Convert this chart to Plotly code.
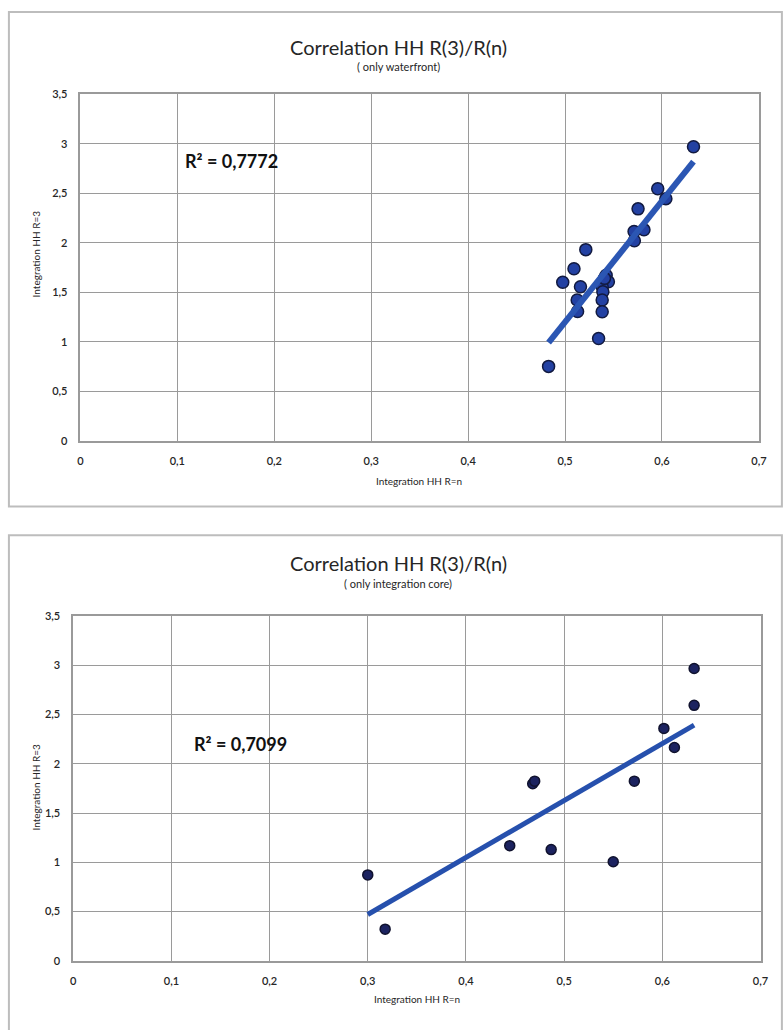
import numpy as np
import plotly.graph_objects as go

# ---------------- data ----------------
wf_x = [0.6325, 0.5956, 0.604, 0.5753, 0.5712, 0.5814, 0.5715, 0.5214, 0.5092, 0.4976,
        0.5159, 0.5125, 0.5129, 0.5424, 0.5447, 0.5383, 0.539, 0.5383, 0.5383, 0.5346,
        0.483, 0.5407]
wf_y = [2.97, 2.545, 2.445, 2.342, 2.113, 2.13, 2.02, 1.93, 1.737, 1.601,
        1.555, 1.422, 1.306, 1.671, 1.605, 1.555, 1.505, 1.422, 1.302, 1.033,
        0.751, 1.64]

core_x = [0.3, 0.3177, 0.4446, 0.4868, 0.468, 0.470, 0.55, 0.5715, 0.6016, 0.6123, 0.6324, 0.6324]
core_y = [0.872, 0.321, 1.169, 1.129, 1.797, 1.824, 1.006, 1.824, 2.359, 2.165, 2.593, 2.967]

x_tickvals = [0, 0.1, 0.2, 0.3, 0.4, 0.5, 0.6, 0.7]
x_ticktext = ["0", "0,1", "0,2", "0,3", "0,4", "0,5", "0,6", "0,7"]
y_tickvals = [0, 0.5, 1, 1.5, 2, 2.5, 3, 3.5]
y_ticktext = ["0", "0,5", "1", "1,5", "2", "2,5", "3", "3,5"]

title_main = "Correlation HH R(3)/R(n)"
subtitle_top = "( only waterfront)"
subtitle_bottom = "( only integration core)"
r2_top = "R² = 0,7772"
r2_bottom = "R² = 0,7099"
x_title = "Integration HH R=n"
y_title = "Integration HH R=3"

# ---------------- figure ----------------
W, H = 783, 1030
FONT = "Lato"
TXT = "#262626"
GRID = "#9a9a9a"


def px(x):
    return x / W


def py(y):
    return 1 - y / H


def trend(xs, ys):
    xs = np.asarray(xs)
    ys = np.asarray(ys)
    k, b = np.polyfit(xs, ys, 1)
    tx = np.array([xs.min(), xs.max()])
    return tx, k * tx + b


fig = go.Figure()

# top chart traces
fig.add_trace(go.Scatter(x=wf_x, y=wf_y, mode="markers", xaxis="x", yaxis="y",
                         marker=dict(size=12, color="#2341a3",
                                     line=dict(color="#121a40", width=1.5)),
                         showlegend=False))
tx, ty = trend(wf_x, wf_y)
fig.add_trace(go.Scatter(x=tx, y=ty, mode="lines", xaxis="x", yaxis="y",
                         line=dict(color="#2b56b3", width=6), showlegend=False))

# bottom chart traces
fig.add_trace(go.Scatter(x=core_x, y=core_y, mode="markers", xaxis="x2", yaxis="y2",
                         marker=dict(size=10, color="#1c2360",
                                     line=dict(color="#10122e", width=1.5)),
                         showlegend=False))
tx2, ty2 = trend(core_x, core_y)
fig.add_trace(go.Scatter(x=tx2, y=ty2, mode="lines", xaxis="x2", yaxis="y2",
                         line=dict(color="#2650ad", width=5), showlegend=False))

axis_common = dict(showgrid=True, gridcolor=GRID, gridwidth=1.3,
                   showline=True, linecolor=GRID, linewidth=1.5, mirror=True,
                   zeroline=False, ticks="outside", tickcolor="rgba(0,0,0,0)",
                   tickfont=dict(family=FONT, size=11, color=TXT, weight=600),
                   fixedrange=True)

fig.update_layout(
    width=W, height=H,
    margin=dict(l=0, r=0, t=0, b=0),
    paper_bgcolor="white", plot_bgcolor="white",
    xaxis=dict(domain=[px(78.5), px(766.7)], range=[0, 0.7], anchor="y",
               tickvals=x_tickvals, ticktext=x_ticktext, ticklen=9, **axis_common),
    yaxis=dict(domain=[py(439.3), py(88.3)], range=[0, 3.5], anchor="x",
               tickvals=y_tickvals, ticktext=y_ticktext, ticklen=9, **axis_common),
    xaxis2=dict(domain=[px(71.2), px(768.3)], range=[0, 0.7], anchor="y2",
                tickvals=x_tickvals, ticktext=x_ticktext, ticklen=9, **axis_common),
    yaxis2=dict(domain=[py(966), py(616.8)], range=[0, 3.5], anchor="x2",
                tickvals=y_tickvals, ticktext=y_ticktext, ticklen=9, **axis_common),
)

# outer chart boxes
BOX = "#bdbdbd"
fig.add_shape(type="rect", xref="paper", yref="paper",
              x0=px(6), x1=px(790), y0=py(506), y1=py(5),
              line=dict(color=BOX, width=2), fillcolor="rgba(0,0,0,0)", layer="below")
fig.add_shape(type="rect", xref="paper", yref="paper",
              x0=px(6), x1=px(790), y0=py(1040), y1=py(535),
              line=dict(color=BOX, width=2), fillcolor="rgba(0,0,0,0)", layer="below")


def ann(text, x, y, size, bold=False, angle=0, xanchor="center"):
    fig.add_annotation(text=f"<b>{text}</b>" if bold else text,
                       xref="paper", yref="paper", x=px(x), y=py(y),
                       xanchor=xanchor, yanchor="middle", showarrow=False,
                       textangle=angle,
                       font=dict(family=FONT, size=size, color=TXT if not bold else "#111"))


# titles
ann(title_main, 401, 41, 20)
ann(subtitle_top, 401, 60, 11)
ann(title_main, 401, 563, 20)
ann(subtitle_bottom, 401, 584, 11)

# R² labels
ann(r2_top, 183, 156, 18, bold=True, xanchor="left")
ann(r2_bottom, 192, 746, 18, bold=True, xanchor="left")

# axis titles
ann(x_title, 422, 480, 10)
ann(x_title, 420, 1005, 10)
ann(y_title, 33, 250, 10, angle=-90)
ann(y_title, 34, 790, 10, angle=-90)

post = (
    "document.documentElement.style.margin='0';"
    "document.documentElement.style.padding='0';"
    "document.documentElement.style.overflow='hidden';"
    "document.body.style.margin='0';"
    "document.body.style.padding='0';"
    "document.body.style.overflow='hidden';"
    "var d=document.getElementById('{plot_id}');"
    "d.style.position='absolute';d.style.top='0px';d.style.left='0px';"
)

fig.write_html("out.html", config={"displayModeBar": False}, post_script=post)
